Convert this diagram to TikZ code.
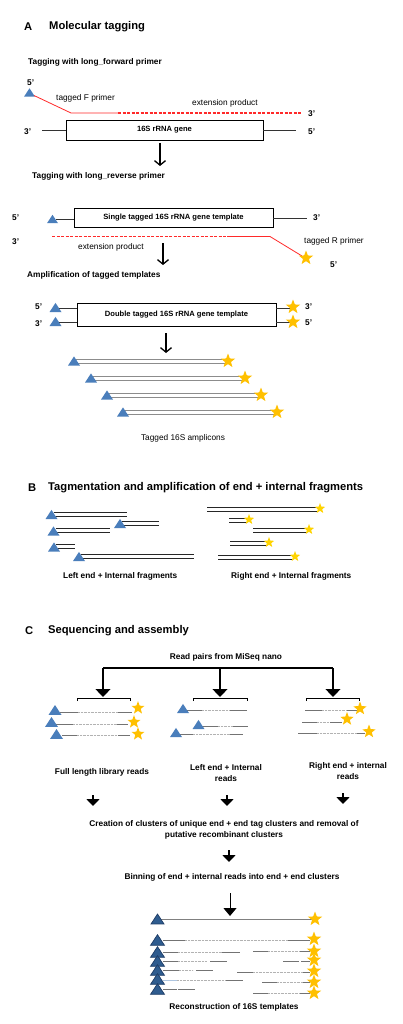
\documentclass[tikz,border=0pt]{standalone}
\usepackage{fontspec}
\setmainfont{Liberation Sans}
\usetikzlibrary{arrows.meta}
\definecolor{triblue}{HTML}{4A7EBB}
\definecolor{tridark}{HTML}{2F5C8F}
\definecolor{tridarker}{HTML}{1F3D66}
\definecolor{gold}{HTML}{FFC000}
\definecolor{goldb}{HTML}{FFD400}
\definecolor{myred}{HTML}{FF2A2A}
\tikzset{
  pics/tri/.style 2 args={code={\fill[#1] ({-#2/2},{#2*0.38}) -- ({#2/2},{#2*0.38}) -- (0,{-#2*0.38}) -- cycle;}},
  pics/tridk/.style={code={\filldraw[fill=tridark,draw=tridarker,line width=0.7pt] ({-#1/2},{#1*0.38}) -- ({#1/2},{#1*0.38}) -- (0,{-#1*0.38}) -- cycle;}},
  pics/gstar/.style 2 args={code={\fill[#1] (270:#2) -- (306:{#2*0.42}) -- (342:#2) -- (18:{#2*0.42}) -- (54:#2) -- (90:{#2*0.42}) -- (126:#2) -- (162:{#2*0.42}) -- (198:#2) -- (234:{#2*0.42}) -- cycle;}},
}
\begin{document}
\begin{tikzpicture}[x=1pt,y=-1pt,
  lbl/.style={font=\fontsize{8.3}{10}\selectfont, inner sep=0pt},
  blbl/.style={font=\bfseries\fontsize{8.3}{11}\selectfont, inner sep=0pt, align=center},
  boxt/.style={font=\bfseries\fontsize{7.6}{9}\selectfont, inner sep=0pt},
  ttl/.style={font=\bfseries\fontsize{11.2}{13}\selectfont, inner sep=0pt, anchor=west},
  gene/.style={draw=black, line width=0.6pt, inner sep=0pt},
  strand/.style={draw=black!80, line width=0.7pt},
  redsolid/.style={draw=myred, line width=0.8pt},
  reddash/.style={draw=myred, line width=1.1pt, dash pattern=on 3pt off 1.5pt},
  amp/.style={draw=black!45, line width=0.7pt},
  frag/.style={draw=black!85, line width=0.9pt},
  rs/.style={draw=black!55, line width=0.8pt},
  rsb/.style={draw=triblue!45, line width=0.8pt},
  rdot/.style={draw=black!30, line width=0.7pt, dash pattern=on 0.7pt off 0.7pt},
  openarr/.style={draw=black, line width=1.3pt, -{Straight Barb[length=4.5pt,width=11pt]}},
  fillarr/.style={draw=black, line width=1.1pt, -{Triangle[length=8pt,width=15pt]}},
  fillarrb/.style={draw=black, line width=1.6pt, -{Triangle[length=7pt,width=13pt]}},
  fillarrc/.style={draw=black, line width=1pt, -{Triangle[length=8pt,width=13pt]}},
  bracket/.style={draw=black, line width=0.8pt},
]
\useasboundingbox (0,0) rectangle (402,1024);
\fill[white] (0,0) rectangle (402,1024);

% ---------------- Panel A ----------------
\node[ttl] (tA) at (24,27) {A};
\node[ttl] (tAt) at (49,27) {Molecular tagging};
\node[blbl, anchor=west] (fwd) at (28,62) {Tagging with long\_forward primer};
\node[blbl, anchor=west] (f5) at (27,83) {5’};
\pic at (29.5,92.5) {tri={triblue}{11}};
\coordinate (fa) at (34,95.5);
\coordinate (fb) at (71,113);
\coordinate (fc) at (118,113);
\coordinate (fd) at (302,113);
\draw[redsolid] (fa) -- (fb) -- (fc);
\draw[reddash] (fc) -- (fd);
\node[lbl, anchor=west] (tFp) at (56,98) {tagged F primer};
\node[lbl, anchor=west] (ext1) at (192,103) {extension product};
\node[blbl, anchor=west] (f3) at (308,114) {3’};
\node[blbl, anchor=west] (g3) at (24,132) {3’};
\node[gene, boxt, minimum width=197pt, minimum height=20pt] (gene) at (164.5,130) {16S rRNA gene};
\coordinate (gl) at (42,130);
\coordinate (gr) at (296,130);
\draw[strand] (gl) -- (gene.west);
\draw[strand] (gene.east) -- (gr);
\node[blbl, anchor=west] (g5) at (308,132) {5’};
\coordinate (a1s) at (160,143);
\coordinate (a1e) at (160,166);
\draw[openarr] (a1s) -- (a1e);

\node[blbl, anchor=west] (rev) at (32,176) {Tagging with long\_reverse primer};
\node[blbl, anchor=west] (s5) at (12,218) {5’};
\pic at (52.5,219) {tri={triblue}{11}};
\node[gene, boxt, minimum width=199pt, minimum height=19pt] (single) at (173.5,217.5) {Single tagged 16S rRNA gene template};
\coordinate (sl) at (56,219);
\coordinate (sr) at (307,218);
\draw[strand] (sl) -- (single.west |- sl);
\draw[strand] (single.east |- sr) -- (sr);
\node[blbl, anchor=west] (s3) at (313,218) {3’};
\node[blbl, anchor=west] (e3) at (12,242) {3’};
\coordinate (ra) at (52,236.5);
\coordinate (rb) at (227,236.5);
\coordinate (rc) at (270,236.5);
\coordinate (rend) at (302,256);
\draw[reddash] (ra) -- (rb);
\draw[redsolid] (rb) -- (rc) -- (rend);
\pic at (306,258) {gstar={gold}{7.5}};
\node[lbl, anchor=west] (tRp) at (304,241) {tagged R primer};
\node[blbl, anchor=west] (e5) at (330,265) {5’};
\node[lbl, anchor=west] (ext2) at (78,247) {extension product};
\coordinate (a2s) at (163,243);
\coordinate (a2e) at (163,265);
\draw[openarr] (a2s) -- (a2e);
\node[blbl, anchor=west] (amp) at (27,275) {Amplification of tagged templates};

\node[blbl, anchor=west] (d5) at (35,307) {5’};
\node[blbl, anchor=west] (d3) at (35,324) {3’};
\node[gene, boxt, minimum width=199pt, minimum height=23pt] (double) at (176.5,314.5) {Double tagged 16S rRNA gene template};
\draw[strand] (58,308) -- (double.west |- 0,308);
\draw[strand] (58,322) -- (double.west |- 0,322);
\draw[strand] (double.east |- 0,308) -- (290,308);
\draw[strand] (double.east |- 0,322) -- (290,322);
\pic at (55.5,307.5) {tri={triblue}{12}};
\pic at (55.5,321.5) {tri={triblue}{12}};
\pic at (293,307) {gstar={gold}{7.5}};
\pic at (293,322) {gstar={gold}{7.5}};
\node[blbl, anchor=west] (dr3) at (305,307) {3’};
\node[blbl, anchor=west] (dr5) at (305,323) {5’};
\coordinate (a3s) at (166,333);
\coordinate (a3e) at (166,353);
\draw[openarr] (a3s) -- (a3e);

\foreach \L/\y in {68/361, 85/378, 101/395, 117/412} {
  \draw[amp] (\L+6,\y-2) -- (\L+157,\y-2);
  \draw[amp] (\L+6,\y+2) -- (\L+157,\y+2);
  \pic at (\L+6,\y) {tri={triblue}{12}};
  \pic at (\L+160,\y) {gstar={gold}{7.5}};
}
\node[lbl] (ampl) at (183,438) {Tagged 16S amplicons};

% ---------------- Panel B ----------------
\node[ttl] (tB) at (28,488) {B};
\node[ttl] (tBt) at (48,488) {Tagmentation and amplification of end + internal fragments};
\foreach \cx/\yt/\xe in {51.5/512/127, 53.5/528.5/110, 120/521/159, 54/544.5/75, 79/554/194} {
  \draw[frag] (\cx+2,\yt) -- (\xe,\yt);
  \draw[frag] (\cx+2,\yt+4) -- (\xe,\yt+4);
  \pic at (\cx,\yt+2.5) {tri={triblue}{12}};
}
\foreach \xs/\yt/\xe in {207/507/318, 229/518/247, 253/528/307, 230/541/267, 218/555/293} {
  \draw[frag] (\xs,\yt) -- (\xe,\yt);
  \draw[frag] (\xs,\yt+4) -- (\xe,\yt+4);
  \pic at (\xe+2,\yt+1.5) {gstar={goldb}{5.5}};
}
\node[blbl, anchor=west] (lef) at (63,576) {Left end + Internal fragments};
\node[blbl, anchor=west] (ref) at (231,576) {Right end + Internal fragments};

% ---------------- Panel C ----------------
\node[ttl] (tC) at (25,631) {C};
\node[ttl] (tCt) at (48,631) {Sequencing and assembly};
\node[blbl] (rp) at (226,657) {Read pairs from MiSeq nano};
\coordinate (bl) at (103,668);
\coordinate (bm) at (220,668);
\coordinate (br) at (333,668);
\draw[draw=black, line width=1.1pt] (bl) -- (br);
\draw[fillarr] (bl) -- (103,697);
\draw[fillarr] (bm) -- (220,697);
\draw[fillarr] (br) -- (333,697);
\draw[bracket] (77,701) |- (130,698) -- (130,701);
\draw[bracket] (193,701) |- (247,698) -- (247,701);
\draw[bracket] (306,701) |- (359,698) -- (359,701);

% full length reads
\foreach \ly/\a/\b/\c/\d in {712/60/78/118/132, 724/56/73/117/128, 735/62/77/118/130} {
  \draw[rs] (\a,\ly) -- (\b,\ly);
  \draw[rdot] (\b,\ly) -- (\c,\ly);
  \draw[rs] (\c,\ly) -- (\d,\ly);
}
\pic at (55,710) {tri={triblue}{13}};
\pic at (51.5,722) {tri={triblue}{13}};
\pic at (56.5,734) {tri={triblue}{13}};
\pic at (138,708) {gstar={gold}{6.8}};
\pic at (134,722) {gstar={gold}{6.8}};
\pic at (138,734) {gstar={gold}{6.8}};
% left end + internal reads
\foreach \ly/\a/\b/\c/\d in {710/186/202/230/247, 726/202/218/233/248, 734/180/193/230/243} {
  \draw[rs] (\a,\ly) -- (\b,\ly);
  \draw[rdot] (\b,\ly) -- (\c,\ly);
  \draw[rs] (\c,\ly) -- (\d,\ly);
}
\pic at (183,708.5) {tri={triblue}{12}};
\pic at (198.5,724.5) {tri={triblue}{12}};
\pic at (176,732.5) {tri={triblue}{12}};
% right end + internal reads
\foreach \ly/\a/\b/\c/\d in {710/305/322/347/358, 722/302/317/330/342, 733/298/317/357/365} {
  \draw[rs] (\a,\ly) -- (\b,\ly);
  \draw[rdot] (\b,\ly) -- (\c,\ly);
  \draw[rs] (\c,\ly) -- (\d,\ly);
}
\pic at (360,708.5) {gstar={gold}{7}};
\pic at (347,719) {gstar={gold}{7}};
\pic at (369,731.5) {gstar={gold}{7}};

\node[blbl] (fl) at (102,772) {Full length library reads};
\node[blbl] (li) at (226,773.5) {Left end + Internal\\reads};
\node[blbl] (ri) at (348,771) {Right end + internal\\reads};
\draw[fillarrb] (93,795) -- (93,806);
\draw[fillarrb] (227,795) -- (227,806);
\draw[fillarrb] (343,793) -- (343,804);
\node[blbl] (cr) at (224,829.5) {Creation of clusters of unique end + end tag clusters and removal of\\putative recombinant clusters};
\draw[fillarrb] (229,850) -- (229,862);
\node[blbl] (bn) at (232,877) {Binning of end + internal reads into end + end clusters};
\draw[fillarrc] (230,893) -- (230,916);

% reconstruction
\draw[draw=black!50, line width=0.9pt] (160,919) -- (312,919);
\pic at (157.5,919) {tridk=13};
\pic at (315,919) {gstar={gold}{7.5}};
\draw[rs] (163,940) -- (185,940); \draw[rdot] (185,940) -- (288,940); \draw[rs] (288,940) -- (310,940);
\draw[rs] (163,952) -- (178,952); \draw[rdot] (178,952) -- (222,952); \draw[rs] (222,952) -- (240,952);
\draw[rs] (253,951) -- (268,951); \draw[rdot] (268,951) -- (300,951); \draw[rs] (300,951) -- (310,951);
\draw[rs] (163,961) -- (178,961); \draw[rdot] (178,961) -- (207,961); \draw[rs] (210,961) -- (227,961);
\draw[rs] (283,961) -- (299,961); \draw[rs] (301,961) -- (310,961);
\draw[rs] (163,970) -- (179,970); \draw[rdot] (179,970) -- (193,970); \draw[rs] (196,970) -- (213,970);
\draw[rs] (237,972) -- (253,972); \draw[rdot] (253,972) -- (303,972); \draw[rs] (303,972) -- (310,972);
\draw[rsb] (163,980) -- (177,980); \draw[rdot] (177,980) -- (225,980); \draw[rs] (226,980) -- (243,980);
\draw[rs] (262,982) -- (277,982); \draw[rdot] (277,982) -- (303,982); \draw[rs] (303,982) -- (310,982);
\draw[rs] (163,989) -- (177,989); \draw[rs] (178,989) -- (195,989);
\draw[rs] (253,993) -- (268,993); \draw[rdot] (268,993) -- (300,993); \draw[rs] (300,993) -- (310,993);
\foreach \y in {940, 952, 961, 970, 979, 989} { \pic at (157.5,\y) {tridk=14}; }
\foreach \y in {939, 951, 960, 971, 982, 993} { \pic at (314,\y) {gstar={gold}{7.5}}; }
\node[blbl] (rc16) at (234,1007) {Reconstruction of 16S templates};
\end{tikzpicture}
\end{document}
